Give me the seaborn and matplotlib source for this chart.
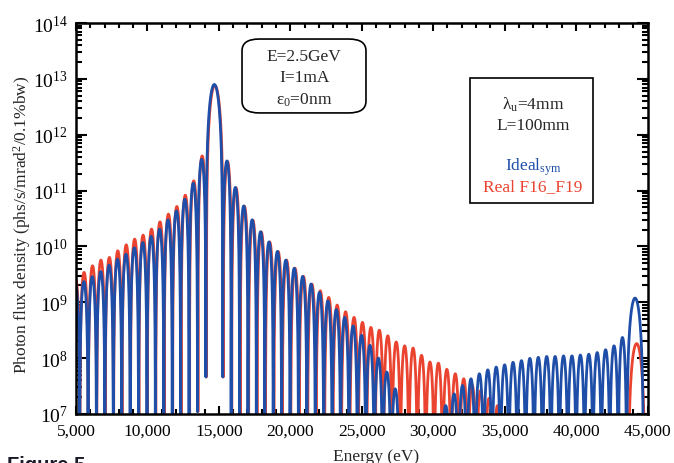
import numpy as np
import pandas as pd
import matplotlib
matplotlib.use("Agg")
import matplotlib.pyplot as plt
import seaborn as sns
from matplotlib.patches import FancyBboxPatch, Rectangle
from matplotlib.ticker import FixedLocator, FixedFormatter, LogLocator, NullFormatter

# ---------------- data ----------------
# energies (eV) of the zeros that bound each interference lobe
lobe_edges_eV = [4667, 5256, 5845, 6434, 7023, 7612, 8201, 8790, 9379, 9968,
                 10557, 11146, 11735, 12324, 12913, 13502, 14091,
                 15269, 15858, 16447, 17036, 17625, 18214, 18803, 19392, 19981,
                 20570, 21159, 21748, 22337, 22926, 23515, 24104, 24693, 25282,
                 25871, 26460, 27049, 27638, 28227, 28816, 29405, 29994, 30583,
                 31172, 31761, 32350, 32939, 33528, 34117, 34706, 35295, 35884,
                 36473, 37062, 37651, 38240, 38829, 39418, 40007, 40596, 41185,
                 41774, 42363, 42952, 43541, 44719]

# log10 of the peak flux density of each lobe (Ideal_sym, blue)
ideal_peak_log10 = [9.33, 9.37, 9.46, 9.55, 9.665, 9.77, 9.86, 9.975, 10.07, 10.18,
                    10.31, 10.476, 10.637, 10.846, 11.132, 11.56,
                    12.90,
                    11.53, 11.056, 10.726, 10.476, 10.262, 10.08, 9.91, 9.755, 9.61,
                    9.463, 9.326, 9.177, 9.027, 8.87, 8.73, 8.575, 8.41, 8.23,
                    8.0, 7.75, 7.45, 6.5, 6.5, 6.5, 6.5, 6.5, 7.15,
                    7.36, 7.51, 7.63, 7.72, 7.79, 7.84, 7.88, 7.925, 7.955,
                    7.996, 8.014, 8.03, 8.03, 8.04, 8.04, 8.055, 8.07, 8.10,
                    8.15, 8.22, 8.37,
                    9.075]

# log10 of the peak flux density of each lobe (Real F16_F19, red)
real_peak_log10 = [9.42, 9.535, 9.653, 9.755, 9.803, 9.922, 10.029, 10.131, 10.202, 10.31,
                   10.44, 10.578, 10.715, 10.918, 11.174, 11.62,
                   12.88,
                   11.52, 11.05, 10.72, 10.47, 10.26, 10.08, 9.91, 9.755, 9.61,
                   9.463, 9.326, 9.206, 9.087, 8.95, 8.83, 8.73, 8.64, 8.55,
                   8.50, 8.40, 8.29, 8.22, 8.18, 8.05, 7.93, 7.91, 7.80,
                   7.72, 7.63, 7.52, 7.42, 7.28, 7.15, 6.5, 6.5, 6.5,
                   6.5, 6.5, 6.5, 6.5, 6.5, 6.5, 6.5, 6.5, 6.5,
                   6.5, 6.5, 6.5,
                   8.26]

real_energy_scale = 1.0025         # the real spectrum sits slightly higher in energy

# zeros near the main peak that the sampled curve does not reach
shallow_zero_eV = [13502, 14091, 15269]
shallow_zero_floor = [1.1e7, 4.6e7, 4.6e7]

x_ticks = [5000, 10000, 15000, 20000, 25000, 30000, 35000, 40000, 45000]
x_tick_labels = ["5,000", "10,000", "15,000", "20,000", "25,000", "30,000",
                 "35,000", "40,000", "45,000"]
y_ticks = [1e7, 1e8, 1e9, 1e10, 1e11, 1e12, 1e13, 1e14]
y_tick_labels = [r"10$^{7}$", r"10$^{8}$", r"10$^{9}$", r"10$^{10}$",
                 r"10$^{11}$", r"10$^{12}$", r"10$^{13}$", r"10$^{14}$"]

BLUE = "#1f4ea8"
RED = "#ea4430"


def build_curve(edges, peaks_log10, scale, name):
    t = np.linspace(0.0, 1.0, 61)
    xs, ys = [], []
    for a, b, p in zip(edges[:-1], edges[1:], peaks_log10):
        x = a + (b - a) * t
        y = 10.0 ** p * np.sin(np.pi * t) ** 2
        for ez, fl in zip(shallow_zero_eV, shallow_zero_floor):
            m = np.abs(x - ez) < 60
            y[m] = np.maximum(y[m], fl)
        xs.append(x * scale)
        ys.append(y)
    return pd.DataFrame({"Energy": np.concatenate(xs),
                         "Flux": np.concatenate(ys),
                         "series": name})


ideal_df = build_curve(lobe_edges_eV, ideal_peak_log10, 1.0, "Ideal")
real_df = build_curve(lobe_edges_eV, real_peak_log10, real_energy_scale, "Real")

# ---------------- style ----------------
sns.set_style("ticks")
plt.rcParams["font.family"] = ["Liberation Serif", "DejaVu Serif"]
plt.rcParams["mathtext.fontset"] = "custom"
plt.rcParams["mathtext.rm"] = "Liberation Serif"
plt.rcParams["mathtext.it"] = "Liberation Serif:italic"
plt.rcParams["mathtext.bf"] = "Liberation Serif:bold"

FS = 12.5
fig = plt.figure(figsize=(6.74, 4.64), dpi=100)
ax = fig.add_axes([76 / 674, 1 - 415 / 464, 571.5 / 674, 391 / 464])

sns.lineplot(data=real_df, x="Energy", y="Flux", ax=ax, color=RED, lw=2.0,
             estimator=None, sort=False, legend=False)
sns.lineplot(data=ideal_df, x="Energy", y="Flux", ax=ax, color=BLUE, lw=2.0,
             estimator=None, sort=False, legend=False)

ax.set_yscale("log")
ax.set_xlim(5000, 45000)
ax.set_ylim(1e7, 1e14)

ax.xaxis.set_major_locator(FixedLocator(x_ticks))
ax.xaxis.set_major_formatter(FixedFormatter(x_tick_labels))
ax.xaxis.set_minor_locator(FixedLocator(list(range(5000, 45001, 1000))))
ax.yaxis.set_major_locator(FixedLocator(y_ticks))
ax.yaxis.set_major_formatter(FixedFormatter(y_tick_labels))
ax.yaxis.set_minor_locator(LogLocator(base=10, subs=np.arange(2, 10), numticks=20))
ax.yaxis.set_minor_formatter(NullFormatter())

ax.tick_params(which="both", direction="in", top=True, right=True,
               width=1.5, colors="black", pad=6)
ax.tick_params(axis="x", which="major", length=6, labelsize=FS)
ax.tick_params(axis="x", which="minor", length=3.5)
ax.tick_params(axis="y", which="major", length=8, labelsize=14)
ax.tick_params(axis="y", which="minor", length=4.5)
for s in ax.spines.values():
    s.set_linewidth(1.8)
    s.set_color("black")

ax.set_xlabel("Energy (eV)", fontsize=FS)
ax.xaxis.set_label_coords(0.525, -0.107)
ax.xaxis.label.set_va("center")
ax.set_ylabel("Photon flux density (phs/s/mrad$^{2}$/0.1%bw)", fontsize=FS)
ax.yaxis.set_label_coords(-0.0945, 0.486)
ax.yaxis.label.set_va("center")

# ---------------- annotation boxes ----------------
box1 = FancyBboxPatch((0.2905, 0.770), 0.5074 - 0.2905, 0.959 - 0.770,
                      boxstyle="round,pad=0,rounding_size=0.03",
                      transform=ax.transAxes, facecolor="white",
                      edgecolor="black", lw=1.2, zorder=5)
ax.add_patch(box1)
for txt, yy in [("E=2.5GeV", 0.9156), ("I=1mA", 0.862), ("ε$_{0}$=0nm", 0.8056)]:
    ax.text(0.399, yy, txt, transform=ax.transAxes, ha="center", va="center",
            fontsize=FS, zorder=6)

box2 = Rectangle((0.6894, 0.5396), 0.9046 - 0.6894, 0.8593 - 0.5396,
                 transform=ax.transAxes, facecolor="white",
                 edgecolor="black", lw=1.2, zorder=5)
ax.add_patch(box2)
ax.text(0.7997, 0.7928, r"λ$_\mathrm{u}$=4mm", transform=ax.transAxes,
        ha="center", va="center", fontsize=FS, zorder=6)
ax.text(0.7997, 0.739, "L=100mm", transform=ax.transAxes,
        ha="center", va="center", fontsize=FS, zorder=6)
ax.text(0.7997, 0.634, r"Ideal$_\mathrm{sym}$", transform=ax.transAxes,
        ha="center", va="center", fontsize=FS, color=BLUE, zorder=6)
ax.text(0.7997, 0.583, "Real F16_F19", transform=ax.transAxes,
        ha="center", va="center", fontsize=FS, color=RED, zorder=6)

# caption cropped by the bottom edge, as in the reference
fig.text(0.010, -0.0151, "Figure 5", fontsize=14.5, fontweight="bold",
         family=["Liberation Sans", "DejaVu Sans"], color="#1a1a2a",
         ha="left", va="baseline")

fig.savefig("out.png", dpi=100)
